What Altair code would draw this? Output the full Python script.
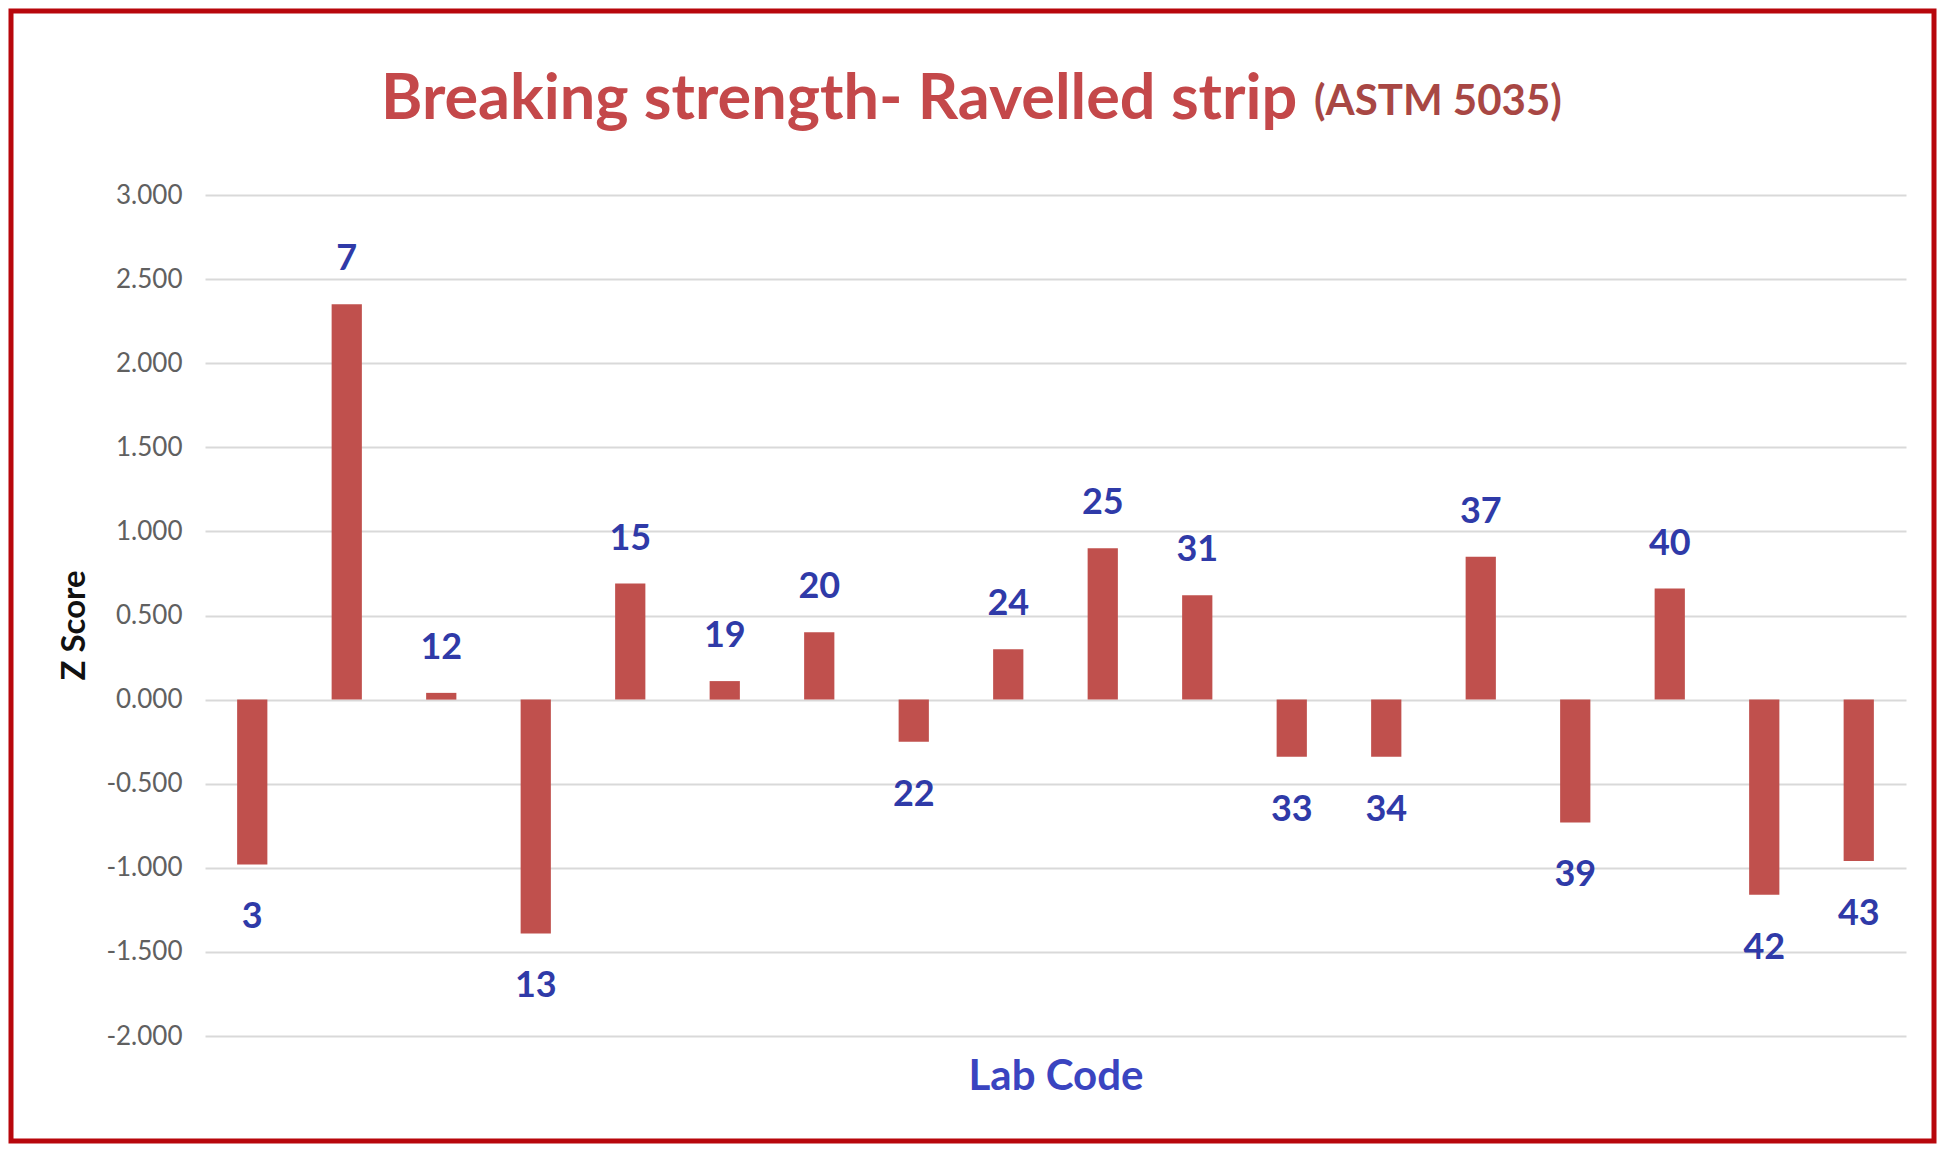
import altair as alt
import pandas as pd

# Data
lab_codes = ["3", "7", "12", "13", "15", "19", "20", "22", "24", "25",
             "31", "33", "34", "37", "39", "40", "42", "43"]
z_scores = [-0.98, 2.35, 0.04, -1.39, 0.69, 0.11, 0.40, -0.25, 0.30, 0.90,
            0.62, -0.34, -0.34, 0.85, -0.73, 0.66, -1.16, -0.96]
y_ticks = [-2.0, -1.5, -1.0, -0.5, 0.0, 0.5, 1.0, 1.5, 2.0, 2.5, 3.0]

title_main = "Breaking strength- Ravelled strip"
title_sub = "(ASTM 5035)"

df = pd.DataFrame({"lab": lab_codes, "z": z_scores})

BAR = "#C0504D"
LBL_BLUE = "#2F3AA8"
AXIS_BLUE = "#3A44C0"
FONT = "Lato"

W, H = 1701, 841

x_enc = alt.X("lab:N", sort=None,
              scale=alt.Scale(paddingInner=0.68, paddingOuter=0.34),
              axis=alt.Axis(labels=False, ticks=False, domain=False, grid=False,
                            title="Lab Code", titleColor=AXIS_BLUE, titleFont=FONT,
                            titleFontSize=42, titleFontWeight="bold", titlePadding=20))
y_scale = alt.Scale(domain=[-2, 3], nice=False, zero=False)

base = alt.Chart(df)

bars = base.mark_bar(color=BAR).encode(
    x=x_enc,
    y=alt.Y("z:Q", scale=y_scale,
            axis=alt.Axis(values=y_ticks, title="Z Score",
                          labelExpr="replace(format(datum.value, '.3f'), '\u2212', '-')",
                          titleFont=FONT, titleFontSize=33, titleFontWeight="bold",
                          titleColor="#111111", titleX=-131, titleY=430,
                          titleBaseline="middle", titleAngle=-90,
                          labelFont=FONT, labelFontSize=26, labelColor="#606060",
                          labelPadding=23, ticks=False, domain=False,
                          grid=True, gridColor="#D9D9D9", gridWidth=2)),
)

pos_labels = base.transform_filter("datum.z >= 0").mark_text(
    font=FONT, fontSize=36, fontWeight="bold", color=LBL_BLUE,
    baseline="alphabetic", dy=-34
).encode(x=alt.X("lab:N", sort=None), y=alt.Y("z:Q"), text="lab:N")

neg_labels = base.transform_filter("datum.z < 0").mark_text(
    font=FONT, fontSize=36, fontWeight="bold", color=LBL_BLUE,
    baseline="top", dy=36
).encode(x=alt.X("lab:N", sort=None), y=alt.Y("z:Q"), text="lab:N")

t_main = alt.Chart(pd.DataFrame({"t": [title_main]})).mark_text(
    font=FONT, fontSize=63, fontWeight="bold", color="#C4484A",
    align="left", baseline="alphabetic"
).encode(x=alt.value(176), y=alt.value(-76), text="t:N")

t_sub = alt.Chart(pd.DataFrame({"t": [title_sub]})).mark_text(
    font=FONT, fontSize=42, fontWeight="bold", color="#A84744",
    align="left", baseline="alphabetic"
).encode(x=alt.value(1109), y=alt.value(-80), text="t:N")

frame = alt.Chart(pd.DataFrame({"f": [0]})).mark_rect(
    fill=None, stroke="#B8070C", strokeWidth=5
).encode(x=alt.value(-194), x2=alt.value(1729), y=alt.value(-184), y2=alt.value(946))

chart = alt.layer(bars, pos_labels, neg_labels, t_main, t_sub, frame).properties(
    width=W, height=H,
    autosize=alt.AutoSizeParams(type="none"),
    padding={"left": 197, "top": 187, "right": 31, "bottom": 109},
    background="white",
).configure_view(stroke=None)

chart.save("out.html", embed_options={"renderer": "svg", "actions": False})
